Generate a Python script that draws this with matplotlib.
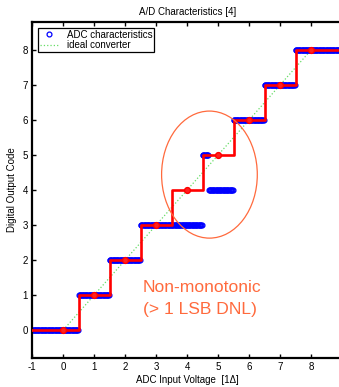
import numpy as np
import matplotlib
matplotlib.use("Agg")
import matplotlib.pyplot as plt
from matplotlib.patches import Ellipse

plt.rcParams['font.family'] = ['Liberation Sans', 'DejaVu Sans']
plt.rcParams['axes.unicode_minus'] = False

# Measured ADC transfer characteristic: code held between consecutive edges
adc_edges = [-1.0, 0.5, 1.5, 2.5, 4.5, 4.7, 5.5, 6.5, 7.5, 9.0]
adc_codes = [0, 1, 2, 3, 5, 4, 6, 7, 8]

# Ideal quantizer staircase and its code centres
ideal_x = [-1, 0, 1, 2, 3, 4, 5, 6, 7, 8, 9]
ideal_y = [0, 0, 1, 2, 3, 4, 5, 6, 7, 8, 8]
centre_x = [0, 1, 2, 3, 4, 5, 6, 7, 8]
centre_y = [0, 1, 2, 3, 4, 5, 6, 7, 8]

# Ideal (infinite resolution) converter line
line_x = [0, 8]
line_y = [0, 8]

xticks = [-1, 0, 1, 2, 3, 4, 5, 6, 7, 8]
yticks = [0, 1, 2, 3, 4, 5, 6, 7, 8]

# Sweep the input and look up the measured output code
vin = np.arange(adc_edges[0], adc_edges[-1], 0.025)
idx = np.clip(np.searchsorted(adc_edges, vin, side='right') - 1, 0, len(adc_codes) - 1)
code = np.asarray(adc_codes)[idx]

W, H = 339, 387
fig = plt.figure(figsize=(W / 100, H / 100), dpi=100)
ax = fig.add_axes([32.3 / W, 1 - 358 / H, 309.7 / W, 336 / H])

accent = '#ff6a3d'

ax.plot(line_x, line_y, linestyle=':', color='#66dd66', linewidth=0.9, zorder=1,
        label='ideal converter')
ax.plot(vin, code, linestyle='none', marker='o', markersize=3.5,
        markerfacecolor='none', markeredgecolor='#0000ff', markeredgewidth=0.9,
        zorder=2, label='ADC characteristics')
ax.plot(ideal_x, ideal_y, drawstyle='steps-mid', color='#ff0000', linewidth=1.9, zorder=3)
ax.plot(centre_x, centre_y, linestyle='none', marker='o', markersize=4.2,
        markerfacecolor='#ff2020', markeredgecolor='#ff0000', markeredgewidth=1.0, zorder=4)

ax.add_patch(Ellipse((4.72, 4.44), 3.09, 3.63, fill=False, edgecolor=accent,
                     linewidth=0.9, zorder=5))
ax.text(2.56, 1.09, 'Non-monotonic', color=accent, fontsize=12.6, ha='left', va='baseline')
ax.text(2.56, 0.46, '(> 1 LSB DNL)', color=accent, fontsize=12.6, ha='left', va='baseline')

ax.set_xlim(-1, 9)
ax.set_ylim(-0.8, 8.8)
ax.set_xticks(xticks)
ax.set_yticks(yticks)
ax.tick_params(direction='in', length=3, width=1.0, labelsize=7, top=True,
               right=False, pad=3, colors='black')
for s in ax.spines.values():
    s.set_linewidth(1.6)

ax.set_title('A/D Characteristics [4]', fontsize=7, pad=5)
ax.set_xlabel('ADC Input Voltage  [1\u0394]', fontsize=7, labelpad=2)
ax.set_ylabel('Digital Output Code', fontsize=7, labelpad=4)

handles, labels = ax.get_legend_handles_labels()
leg = ax.legend(handles[::-1], labels[::-1], loc='upper left', fontsize=7,
                frameon=True, fancybox=False, edgecolor='black', framealpha=1,
                borderpad=0.2, handlelength=2.0, handletextpad=0.8,
                labelspacing=0.05, borderaxespad=0.4, bbox_to_anchor=(0.005, 0.995))
leg.get_frame().set_linewidth(0.9)

fig.savefig('out.png', dpi=100)
